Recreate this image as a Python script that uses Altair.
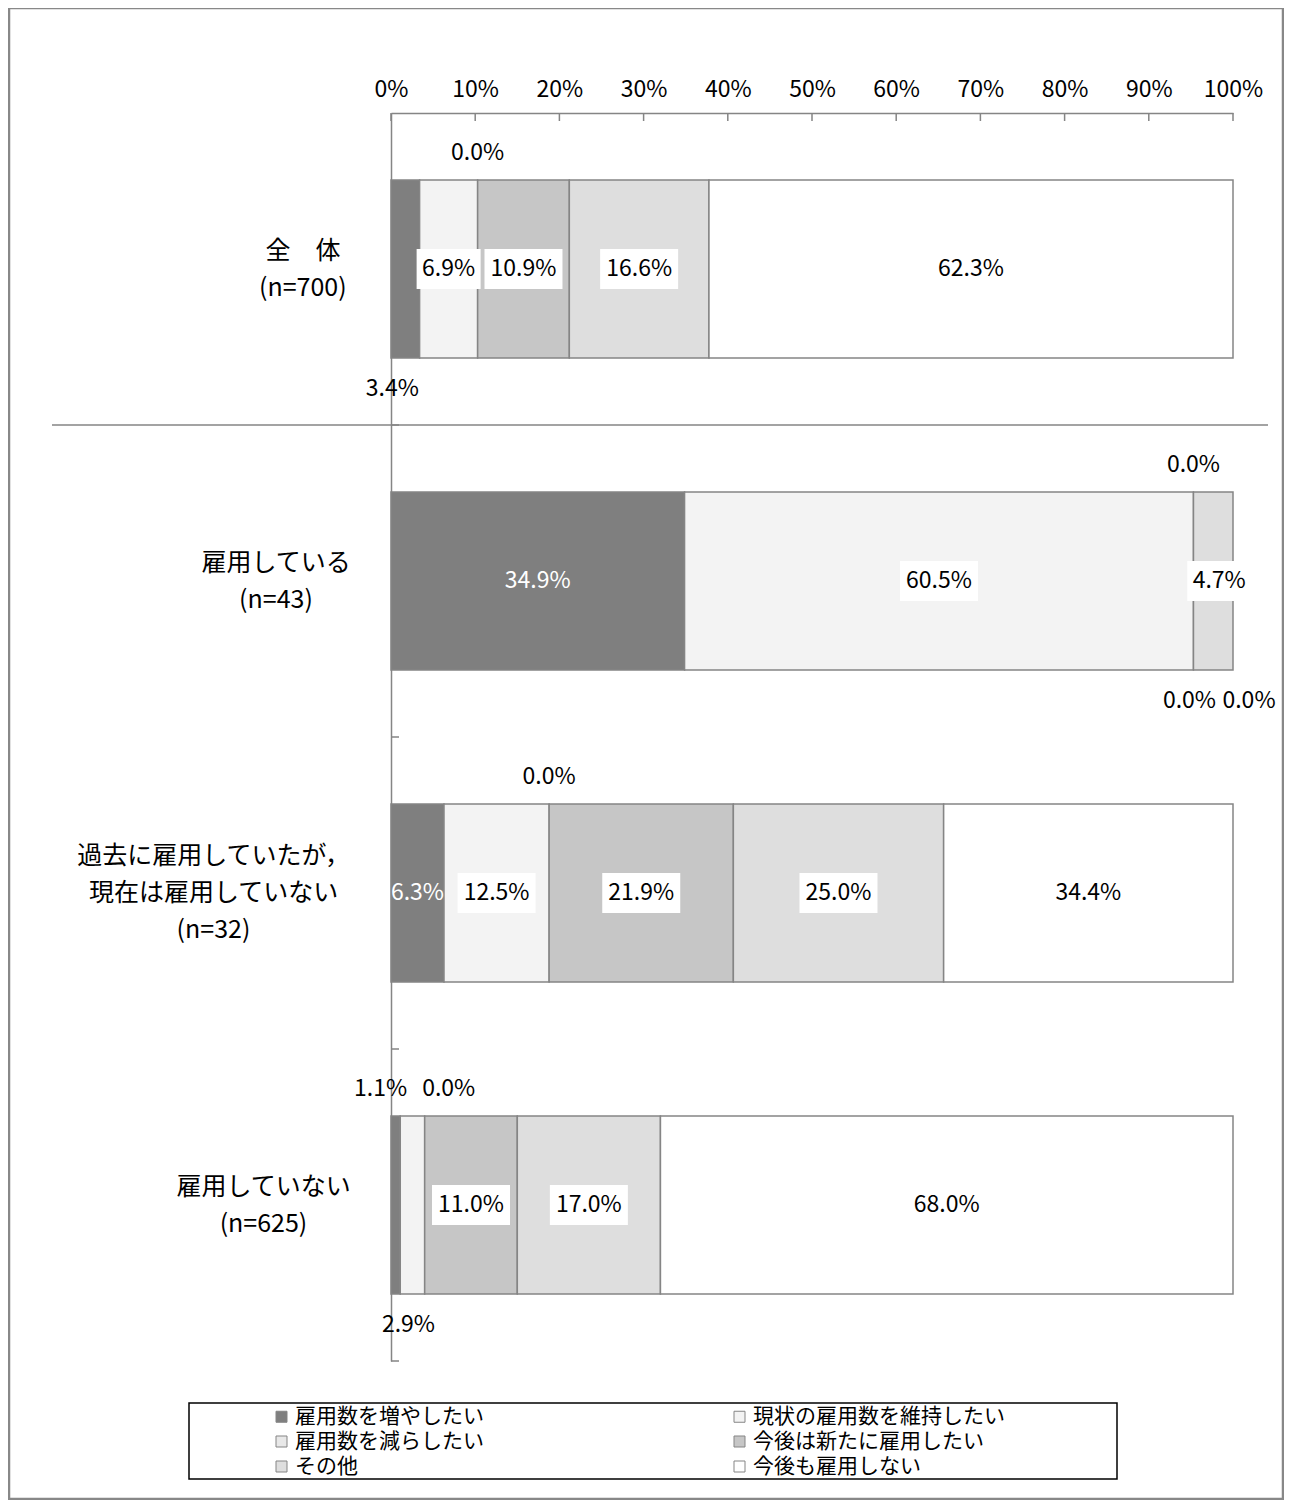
import altair as alt
import pandas as pd

FONT = "Noto Sans CJK JP"
GRAY = "#858585"

# ---- data ----
categories = ["全　体", "雇用している", "過去に雇用していたが，\n現在は雇用していない", "雇用していない"]
sample_sizes = [700, 43, 32, 625]
series_names = ["雇用数を増やしたい", "現状の雇用数を維持したい", "雇用数を減らしたい",
                "今後は新たに雇用したい", "その他", "今後も雇用しない"]
s_increase = [3.4, 34.9, 6.3, 1.1]
s_keep = [6.9, 60.5, 12.5, 2.9]
s_decrease = [0.0, 0.0, 0.0, 0.0]
s_newhire = [10.9, 0.0, 21.9, 11.0]
s_other = [16.6, 4.7, 25.0, 17.0]
s_never = [62.3, 0.0, 34.4, 68.0]
series_values = [s_increase, s_keep, s_decrease, s_newhire, s_other, s_never]
x_ticks = [0, 10, 20, 30, 40, 50, 60, 70, 80, 90, 100]

# ---- styling ----
fills = ["#7f7f7f", "#f3f3f3", "#e8e8e8", "#c6c6c6", "#dedede", "#ffffff"]
PLOT_W, PLOT_H = 842, 1248
PX = PLOT_W / 100.0
CAT_FS = 25
CAT_LH = 37
# label placement (row, series) -> (where, horizontal nudge in px)
placement = {
    (0, 0): ("below", -13), (0, 2): ("above", 0),
    (1, 2): ("above", 0), (1, 3): ("below", -4), (1, 4): ("inside", 6), (1, 5): ("below", 16),
    (2, 2): ("above", 0),
    (3, 0): ("above", -15), (3, 1): ("below", -4), (3, 2): ("above", 24),
}
white_text = {(1, 0), (2, 0)}

cat_keys = [f"{c}\n(n={n})" for c, n in zip(categories, sample_sizes)]

def text_width(s, fs):
    return sum(fs if ord(ch) > 255 else 0.55 * fs for ch in s)

rows = []
for i, key in enumerate(cat_keys):
    vals = [s[i] for s in series_values]
    total = sum(vals)
    cum = 0.0
    for j, v in enumerate(vals):
        x0 = cum / total * 100
        cum += v
        x1 = cum / total * 100
        place, nudge = placement.get((i, j), ("inside", 0))
        if (i, j) in white_text:
            place = "inside_white"
        txt = f"{v:.1f}%"
        lx = (x0 + x1) / 2 + nudge / PX
        w = 14 * len(txt) + 8
        rows.append(dict(cat=key, series=series_names[j], v=v, x0=x0, x1=x1, lx=lx,
                         bx0=lx - w / 2 / PX, bx1=lx + w / 2 / PX, text=txt, place=place))
df = pd.DataFrame(rows)

cat_df = pd.DataFrame({
    "cat": cat_keys,
    "nlines": [len(k.split("\n")) for k in cat_keys],
    "lx": [-(40 + max(text_width(l, CAT_FS) for l in k.split("\n")) / 2) / PX for k in cat_keys],
})
tick_df = pd.DataFrame({"t": x_ticks})

x_scale = alt.Scale(domain=[0, 100], nice=False, zero=False)
x_axis = alt.Axis(orient="top", values=x_ticks, labelExpr="datum.value + '%'", ticks=False,
                  tickSize=0, domainColor=GRAY, domainWidth=1.5, labelFont=FONT, labelFontSize=23,
                  labelColor="black", labelPadding=12, grid=False, title=None, labelFlush=False,
                  labelOverlap=False)
y_scale = alt.Scale(domain=cat_keys, paddingInner=0, paddingOuter=0)
y_axis = alt.Axis(title=None, labels=False, ticks=False, domainColor=GRAY, domainWidth=1.5, grid=False)

def X(field):
    return alt.X(field, type="quantitative", scale=x_scale, axis=x_axis)

def Y(**kw):
    return alt.Y("cat:N", sort=cat_keys, scale=y_scale, axis=y_axis, **kw)

base = alt.Chart(df)

frame = alt.Chart(pd.DataFrame({"a": [0]})).mark_rect(
    fillOpacity=0, stroke="#888888", strokeWidth=2.5
).encode(x=alt.value(-382), x2=alt.value(892), y=alt.value(-105), y2=alt.value(1386))

bars = base.transform_filter("datum.v > 0").mark_bar(
    size=178, stroke=GRAY, strokeWidth=1.5
).encode(
    x=X("x0"), x2="x1:Q", y=Y(),
    color=alt.Color("series:N", scale=alt.Scale(domain=series_names, range=fills),
                    legend=alt.Legend(title=None, orient="none", legendX=-120, legendY=1293,
                                      direction="horizontal",
                                      columns=2, columnPadding=245, rowPadding=3,
                                      symbolType="square", symbolSize=121,
                                      symbolStrokeColor=GRAY, symbolStrokeWidth=1,
                                      labelFont=FONT, labelFontSize=21, labelColor="black",
                                      labelOffset=3, labelLimit=500, padding=0)),
)

boxes = base.transform_filter("datum.place == 'inside'").mark_bar(
    size=40, color="white"
).encode(x=X("bx0"), x2="bx1:Q", y=Y())

txt_props = dict(font=FONT, fontSize=23, align="center", baseline="middle")
t_inside = base.transform_filter("datum.place == 'inside'").mark_text(color="black", **txt_props).encode(
    x=X("lx"), y=Y(), text="text:N")
t_white = base.transform_filter("datum.place == 'inside_white'").mark_text(color="white", **txt_props).encode(
    x=X("lx"), y=Y(), text="text:N")
t_above = base.transform_filter("datum.place == 'above'").mark_text(color="black", dy=-116, **txt_props).encode(
    x=X("lx"), y=Y(), text="text:N")
t_below = base.transform_filter("datum.place == 'below'").mark_text(color="black", dy=120, **txt_props).encode(
    x=X("lx"), y=Y(), text="text:N")

x_tick_marks = alt.Chart(tick_df).mark_rule(color=GRAY, strokeWidth=1.5).encode(
    x=X("t"), y=alt.value(0), y2=alt.value(8))

y_tick_marks = alt.Chart(cat_df).mark_rule(color=GRAY, strokeWidth=1.5).encode(
    y=Y(bandPosition=1), x=alt.value(0), x2=alt.value(8))

separator = alt.Chart(cat_df).transform_filter(
    alt.datum.cat == cat_keys[0]
).mark_rule(color=GRAY, strokeWidth=1.5).encode(
    y=Y(bandPosition=1), x=alt.value(-339), x2=alt.value(877))

legend_box = alt.Chart(pd.DataFrame({"a": [0]})).mark_rect(
    fillOpacity=0, stroke="black", strokeWidth=1.5
).encode(x=alt.value(-202), x2=alt.value(726), y=alt.value(1290), y2=alt.value(1366))

cat_label_layers = []
for nl in sorted(set(cat_df["nlines"])):
    cat_label_layers.append(
        alt.Chart(cat_df).transform_filter(alt.datum.nlines == nl).mark_text(
            font=FONT, fontSize=CAT_FS, lineHeight=CAT_LH, align="center", baseline="middle",
            color="black", lineBreak="\n", dy=-(nl - 1) * CAT_LH / 2
        ).encode(x=X("lx"), y=Y(), text="cat:N")
    )

chart = alt.layer(
    frame, bars, boxes, t_inside, t_white, t_above, t_below,
    x_tick_marks, y_tick_marks, separator, legend_box, *cat_label_layers
).properties(
    width=PLOT_W, height=PLOT_H,
    padding={"left": 383, "top": 105, "right": 51, "bottom": 139},
    autosize=alt.AutoSizeParams(type="none"),
).configure_view(stroke=None)

chart.save("out.html", embed_options={"renderer": "svg", "actions": False})
